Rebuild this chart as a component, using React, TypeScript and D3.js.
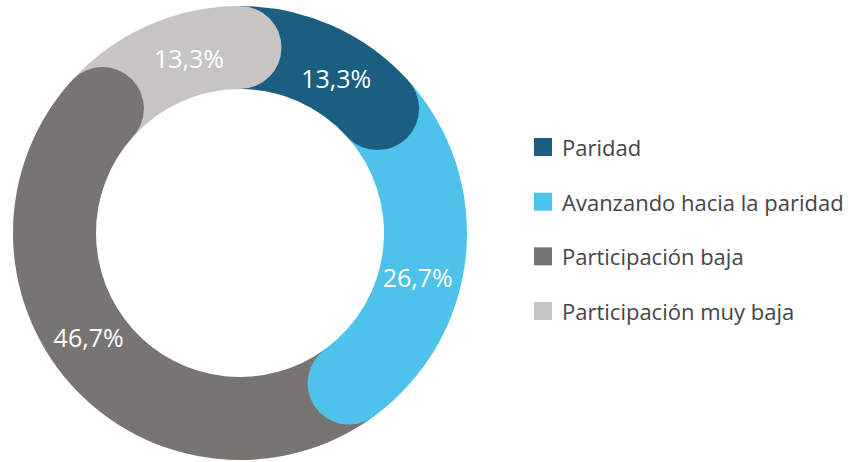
import React from "react";
import * as d3 from "d3";

const categories = ["Paridad", "Avanzando hacia la paridad", "Participación baja", "Participación muy baja"];
const values = [13.3, 26.7, 46.7, 13.3];
const labels = ["13,3%", "26,7%", "46,7%", "13,3%"];
const colors = ["#1b5e7f", "#4dc3eb", "#787471", "#c6c5c4"];

const W = 853;
const H = 462;
const cx = 240;
const cy = 233;
const rOuter = 227;
const rInner = 144;

export default function App() {
  const pie = d3.pie<number>().sort(null).value((d) => d);
  const arcs = pie(values);
  const arcGen = d3.arc<d3.PieArcDatum<number>>().innerRadius(rInner).outerRadius(rOuter);
  const rMid = (rInner + rOuter) / 2;
  const capR = (rOuter - rInner) / 2;
  const capAngle = Math.asin(capR / rMid);
  const pt = (a: number, r: number) => [Math.sin(a) * r, -Math.cos(a) * r];

  const legendY = d3.scalePoint<string>().domain(categories).range([147, 311]);

  return (
    <svg width={W} height={H} style={{ position: "absolute", left: 0, top: 0 }} fontFamily="'Open Sans', sans-serif">
      <g transform={`translate(${cx},${cy})`}>
        {arcs.map((a, i) => (
          <path key={"a" + i} d={arcGen(a) || ""} fill={colors[i]} />
        ))}
        {arcs.map((a, i) => {
          const [x, y] = pt(a.endAngle, rMid);
          return <circle key={"c" + i} cx={x} cy={y} r={capR} fill={colors[i]} />;
        })}
        {arcs.map((a, i) => {
          const mid = (a.startAngle + a.endAngle) / 2 + capAngle * 0.6;
          const [x, y] = pt(mid, 183);
          return (
            <text key={"t" + i} x={x} y={y + 1} fill="#fff" fontSize={25} fontWeight={500} textAnchor="middle" dominantBaseline="central">
              {labels[i]}
            </text>
          );
        })}
      </g>
      <g>
        {categories.map((c, i) => (
          <g key={c} transform={`translate(534,${legendY(c)})`}>
            <rect x={0} y={-9} width={18} height={18} fill={colors[i]} />
            <text x={28} y={0} dominantBaseline="central" fontSize={22} fill="#454545">
              {c}
            </text>
          </g>
        ))}
      </g>
    </svg>
  );
}
